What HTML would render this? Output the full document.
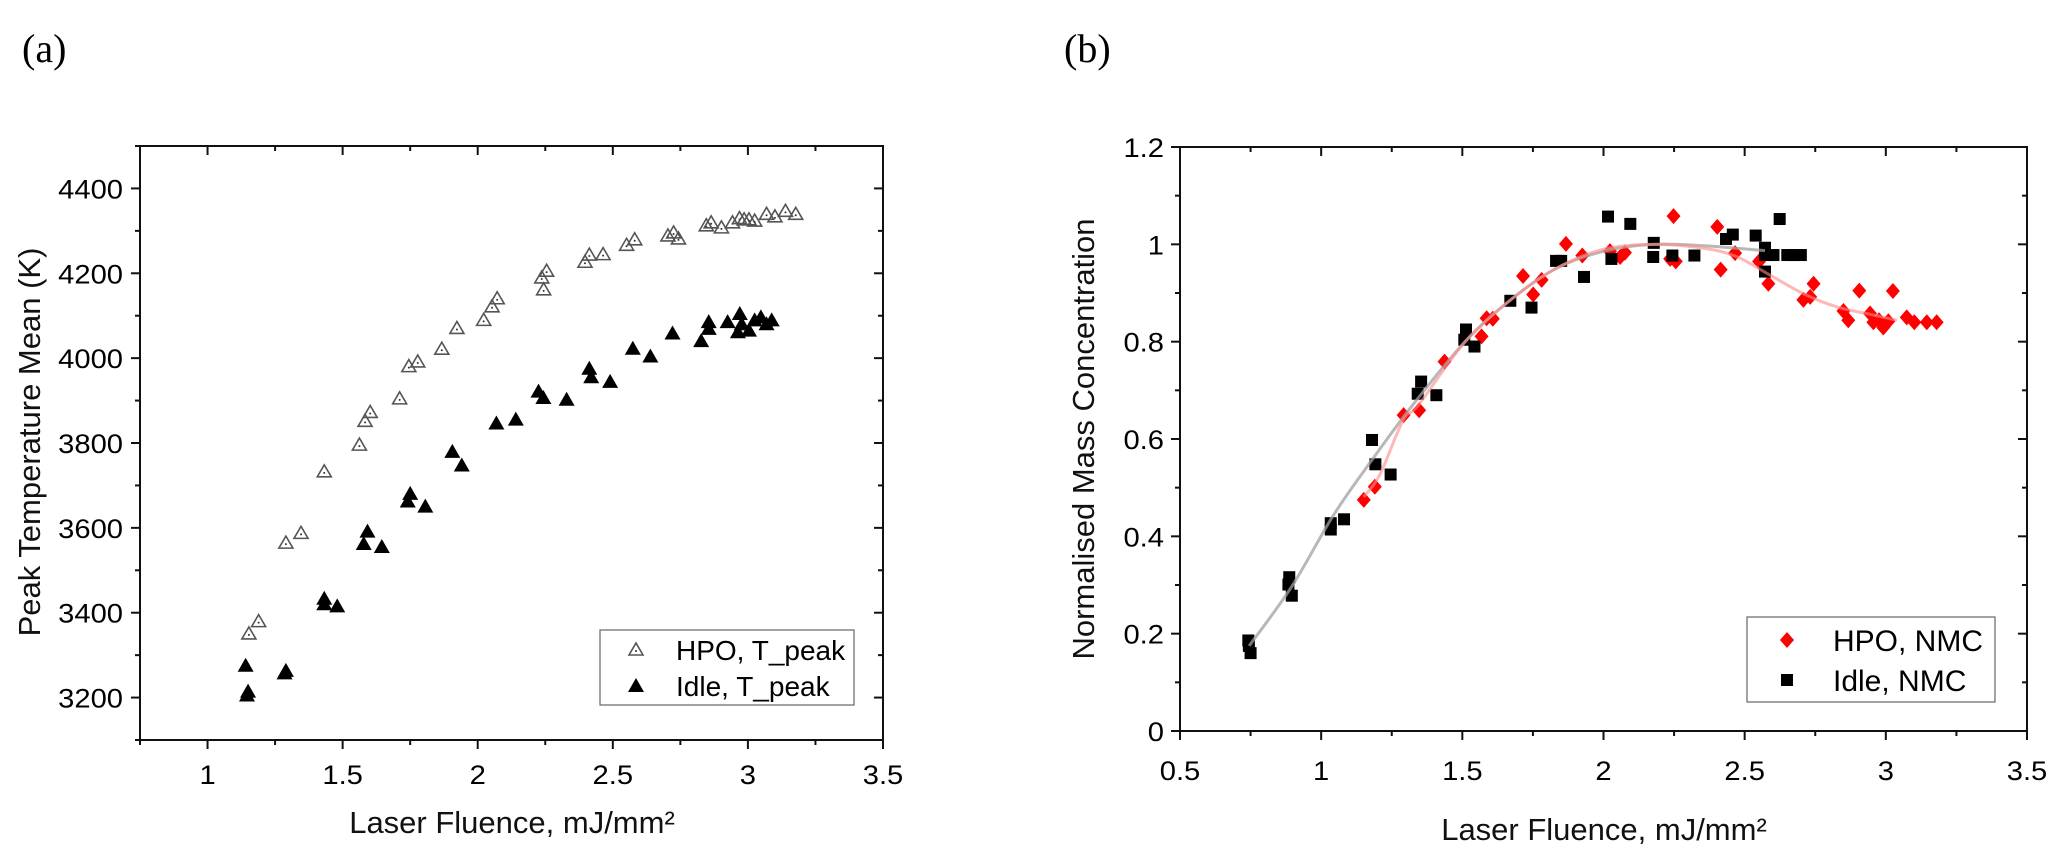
<!DOCTYPE html>
<html><head><meta charset="utf-8"><style>
html,body{margin:0;padding:0;background:#fff;}
svg{display:block;font-family:"Liberation Sans",Arial,sans-serif;}
</style></head><body>
<svg id="fig" width="2067" height="856" viewBox="0 0 2067 856">
<text x="22" y="62" font-family="Liberation Serif, serif" font-size="40">(a)</text>
<text x="1064" y="62" font-family="Liberation Serif, serif" font-size="40">(b)</text>
<g id="chartA"></g>
<g id="chartB"></g>
</svg>
<script>
// ---------- Chart (a) data ----------
const hpoX = [1.153,1.189,1.29,1.346,1.432,1.562,1.583,1.602,1.711,1.745,1.778,1.867,1.923,2.022,2.053,2.072,2.237,2.255,2.244,2.397,2.413,2.464,2.551,2.581,2.704,2.725,2.743,2.846,2.864,2.902,2.943,2.969,2.986,3.004,3.025,3.069,3.1,3.139,3.177];
const hpoT = [3350,3379,3564,3587,3732,3795,3851,3872,3904,3980,3991,4021,4070,4089,4121,4140,4189,4205,4161,4226,4243,4244,4266,4279,4288,4295,4281,4312,4319,4307,4319,4329,4326,4326,4323,4339,4333,4346,4339];
const idleX = [1.141,1.15,1.146,1.29,1.285,1.432,1.432,1.48,1.592,1.578,1.645,1.75,1.741,1.806,1.906,1.941,2.069,2.141,2.225,2.243,2.329,2.413,2.42,2.49,2.574,2.639,2.721,2.827,2.855,2.855,2.925,2.963,2.97,2.977,3.004,3.025,3.048,3.069,3.088];
const idleT = [3275,3214,3205,3263,3257,3433,3420,3415,3591,3562,3555,3680,3662,3650,3779,3747,3846,3855,3921,3906,3902,3975,3955,3944,4022,4004,4058,4040,4085,4069,4085,4061,4104,4080,4065,4089,4096,4080,4089];
const aXTicks = [1,1.5,2,2.5,3,3.5];
const aXTickLabels = ["1","1.5","2","2.5","3","3.5"];
const aYTicks = [3200,3400,3600,3800,4000,4200,4400];
const aYTickLabels = ["3200","3400","3600","3800","4000","4200","4400"];
// ---------- Chart (b) data ----------
const nmcHpoX = [1.151,1.19,1.292,1.347,1.437,1.568,1.586,1.608,1.715,1.751,1.781,1.867,1.925,2.023,2.059,2.076,2.248,2.236,2.256,2.403,2.415,2.466,2.551,2.584,2.708,2.732,2.744,2.85,2.867,2.906,2.944,2.956,2.976,2.991,3.009,3.025,3.074,3.101,3.145,3.18];
const nmcHpoY = [0.475,0.502,0.649,0.659,0.759,0.811,0.848,0.847,0.935,0.897,0.927,1.001,0.977,0.986,0.974,0.983,1.058,0.970,0.965,1.036,0.948,0.982,0.965,0.919,0.886,0.892,0.919,0.863,0.844,0.905,0.858,0.840,0.844,0.829,0.842,0.904,0.850,0.840,0.840,0.840];
const nmcIdleX = [0.742,0.744,0.75,0.887,0.884,0.896,1.034,1.034,1.081,1.18,1.192,1.246,1.354,1.342,1.408,1.513,1.507,1.543,1.67,1.745,1.832,1.85,1.931,2.016,2.028,2.095,2.178,2.176,2.244,2.322,2.434,2.458,2.539,2.572,2.572,2.602,2.624,2.572,2.651,2.675,2.699];
const nmcIdleY = [0.186,0.175,0.160,0.316,0.301,0.278,0.427,0.414,0.435,0.598,0.548,0.527,0.718,0.693,0.690,0.825,0.804,0.790,0.884,0.870,0.966,0.966,0.933,1.057,0.970,1.042,1.003,0.974,0.977,0.977,1.011,1.020,1.018,0.993,0.978,0.978,1.052,0.944,0.978,0.978,0.978];
const fitIdleX = [0.745,0.896,1.043,1.18,1.327,1.513,1.68,1.834,2.002,2.178,2.356,2.572];
const fitIdleY = [0.175,0.297,0.443,0.557,0.672,0.802,0.89,0.951,0.986,1.0,0.997,0.987];
const fitHpoX = [1.151,1.208,1.29,1.345,1.513,1.68,1.834,2.0,2.18,2.356,2.474,2.592,2.71,2.829,2.946,3.04];
const fitHpoY = [0.481,0.527,0.638,0.67,0.802,0.89,0.951,0.99,1.0,0.992,0.974,0.936,0.898,0.871,0.856,0.844];
const bXTicks = [0.5,1,1.5,2,2.5,3,3.5];
const bXTickLabels = ["0.5","1","1.5","2","2.5","3","3.5"];
const bYTicks = [0,0.2,0.4,0.6,0.8,1,1.2];
const bYTickLabels = ["0","0.2","0.4","0.6","0.8","1","1.2"];

const NS = "http://www.w3.org/2000/svg";
function mk(parent, tag, attrs, text){
  const e = document.createElementNS(NS, tag);
  for (const k in attrs) e.setAttribute(k, attrs[k]);
  if (text !== undefined) e.textContent = text;
  parent.appendChild(e);
  return e;
}
function smoothPath(pts){
  let d = "M" + pts[0][0] + "," + pts[0][1];
  for (let i = 0; i < pts.length - 1; i++){
    const p0 = pts[i-1] || pts[i], p1 = pts[i], p2 = pts[i+1], p3 = pts[i+2] || p2;
    const c1 = [p1[0] + (p2[0]-p0[0])/6, p1[1] + (p2[1]-p0[1])/6];
    const c2 = [p2[0] - (p3[0]-p1[0])/6, p2[1] - (p3[1]-p1[1])/6];
    d += " C" + c1 + " " + c2 + " " + p2;
  }
  return d;
}
const TFS = 27, TSX = 1.08;

// ---------- Chart (a) ----------
const A = document.getElementById('chartA');
const aL = 140, aR = 883, aT = 146, aB = 740;
const ax = v => aL + (v - 0.75) * (aR - aL) / 2.75;
const ay = v => aB - (v - 3100) * (aB - aT) / 1400;
function axesA(){
  const f = mk(A, 'rect', {x:aL, y:aT, width:aR-aL, height:aB-aT, fill:'none', stroke:'#111', 'stroke-width':2});
  
  
  for (let v = 0.75; v <= 3.501; v += 0.25){
    const major = Math.abs(v*2 - Math.round(v*2)) < 1e-6;
    const len = major ? 9 : 5;
    const t = mk(A, 'line', {x1:ax(v), x2:ax(v), y1:aB, y2:aB+len, stroke:'#111', 'stroke-width':2});
    
    
    mk(A, 'line', {x1:ax(v), x2:ax(v), y1:aT, y2:aT+len, stroke:'#111', 'stroke-width':2});
  }
  for (let v = 3100; v <= 4500; v += 100){
    const len = (v % 200 === 0) ? 9 : 5;
    const t = mk(A, 'line', {x1:aL-len, x2:aL, y1:ay(v), y2:ay(v), stroke:'#111', 'stroke-width':2});
    
    
    mk(A, 'line', {x1:aR-len, x2:aR, y1:ay(v), y2:ay(v), stroke:'#111', 'stroke-width':2});
  }
  aXTicks.forEach((v,i) => {
    const t = mk(A, 'text', {'text-anchor':'middle', 'font-size':TFS, transform:`translate(${ax(v)},784) scale(${TSX},1)`}, aXTickLabels[i]);
    
    
  });
  aYTicks.forEach((v,i) => {
    const t = mk(A, 'text', {'text-anchor':'end', 'font-size':TFS, transform:`translate(123,${ay(v)+10}) scale(${TSX},1)`}, aYTickLabels[i]);
    
    
  });
  const xt = mk(A, 'text', {x:512, y:833, 'text-anchor':'middle', 'font-size':31, fill:'#111'}, 'Laser Fluence, mJ/mm²');
  
  
  const yt = mk(A, 'text', {'text-anchor':'middle', 'font-size':31, fill:'#111', transform:'translate(40,442) rotate(-90)'}, 'Peak Temperature Mean (K)');
  
  
}
function openTri(g, x, y){
  mk(g, 'path', {d:`M${x-7},${y+5} L${x+7},${y+5} L${x},${y-7} Z`, fill:'none', stroke:'#555', 'stroke-width':1.6});
  mk(g, 'circle', {cx:x, cy:y+1, r:1, fill:'#333'});
}
function fillTri(g, x, y){
  mk(g, 'path', {d:`M${x-8},${y+6} L${x+8},${y+6} L${x},${y-8} Z`, fill:'#000'});
}
axesA();
const gHpo = mk(A, 'g', {});


hpoX.forEach((v,i) => openTri(gHpo, ax(v), ay(hpoT[i])));
const gIdle = mk(A, 'g', {});


idleX.forEach((v,i) => fillTri(gIdle, ax(v), ay(idleT[i])));
const legA = mk(A, 'g', {});


mk(legA, 'rect', {x:600, y:630, width:254, height:75, fill:'#fff', stroke:'#666', 'stroke-width':1.2});
openTri(legA, 636, 650);
const la1 = mk(legA, 'text', {x:676, y:660, 'font-size':28}, 'HPO, T_peak');


fillTri(legA, 636, 686);
const la2 = mk(legA, 'text', {x:676, y:696, 'font-size':28}, 'Idle, T_peak');



// ---------- Chart (b) ----------
const B = document.getElementById('chartB');
const bL = 1180, bR = 2027, bT = 147, bB = 731;
const bx = v => bL + (v - 0.5) * (bR - bL) / 3;
const by = v => bB - v * (bB - bT) / 1.2;
function axesB(){
  const f = mk(B, 'rect', {x:bL, y:bT, width:bR-bL, height:bB-bT, fill:'none', stroke:'#111', 'stroke-width':2});
  
  
  for (let k = 0; k <= 12; k++){
    const v = 0.5 + k*0.25;
    const len = (k % 2 === 0) ? 9 : 5;
    const t = mk(B, 'line', {x1:bx(v), x2:bx(v), y1:bB, y2:bB+len, stroke:'#111', 'stroke-width':2});
    
    
    mk(B, 'line', {x1:bx(v), x2:bx(v), y1:bT, y2:bT+len, stroke:'#111', 'stroke-width':2});
  }
  for (let k = 0; k <= 12; k++){
    const v = k*0.1;
    const len = (k % 2 === 0) ? 9 : 5;
    const t = mk(B, 'line', {x1:bL-len, x2:bL, y1:by(v), y2:by(v), stroke:'#111', 'stroke-width':2});
    
    
    mk(B, 'line', {x1:bR-len, x2:bR, y1:by(v), y2:by(v), stroke:'#111', 'stroke-width':2});
  }
  bXTicks.forEach((v,i) => {
    const t = mk(B, 'text', {'text-anchor':'middle', 'font-size':TFS, transform:`translate(${bx(v)},780) scale(${TSX},1)`}, bXTickLabels[i]);
    
    
  });
  bYTicks.forEach((v,i) => {
    const t = mk(B, 'text', {'text-anchor':'end', 'font-size':TFS, transform:`translate(1164,${by(v)+10}) scale(${TSX},1)`}, bYTickLabels[i]);
    
    
  });
  const xt = mk(B, 'text', {x:1604, y:840, 'text-anchor':'middle', 'font-size':31, fill:'#111'}, 'Laser Fluence, mJ/mm²');
  
  
  const yt = mk(B, 'text', {'text-anchor':'middle', 'font-size':31, fill:'#111', transform:'translate(1094,439) rotate(-90)'}, 'Normalised Mass Concentration');
  
  
}
function diamond(g, x, y){
  mk(g, 'path', {d:`M${x},${y-8} L${x+7},${y} L${x},${y+8} L${x-7},${y} Z`, fill:'#ff0000'});
}
function square(g, x, y){
  mk(g, 'rect', {x:x-6, y:y-6, width:12, height:12, fill:'#000'});
}
axesB();
const gR = mk(B, 'g', {});


nmcHpoX.forEach((v,i) => diamond(gR, bx(v), by(nmcHpoY[i])));
const gK = mk(B, 'g', {});


nmcIdleX.forEach((v,i) => square(gK, bx(v), by(nmcIdleY[i])));
const fit1 = mk(B, 'path', {d:smoothPath(fitIdleX.map((v,i)=>[bx(v),by(fitIdleY[i])])), fill:'none', stroke:'#a0a0a0', 'stroke-width':3, opacity:0.75});


const fit2 = mk(B, 'path', {d:smoothPath(fitHpoX.map((v,i)=>[bx(v),by(fitHpoY[i])])), fill:'none', stroke:'#ff8888', 'stroke-width':3, opacity:0.6});


const legB = mk(B, 'g', {});


mk(legB, 'rect', {x:1747, y:617, width:248, height:85, fill:'#fff', stroke:'#666', 'stroke-width':1.2});
diamond(legB, 1787, 640);
const lb1 = mk(legB, 'text', {x:1833, y:651, 'font-size':30}, 'HPO, NMC');


square(legB, 1787, 680);
const lb2 = mk(legB, 'text', {x:1833, y:691, 'font-size':30}, 'Idle, NMC');


</script>
</body></html>
